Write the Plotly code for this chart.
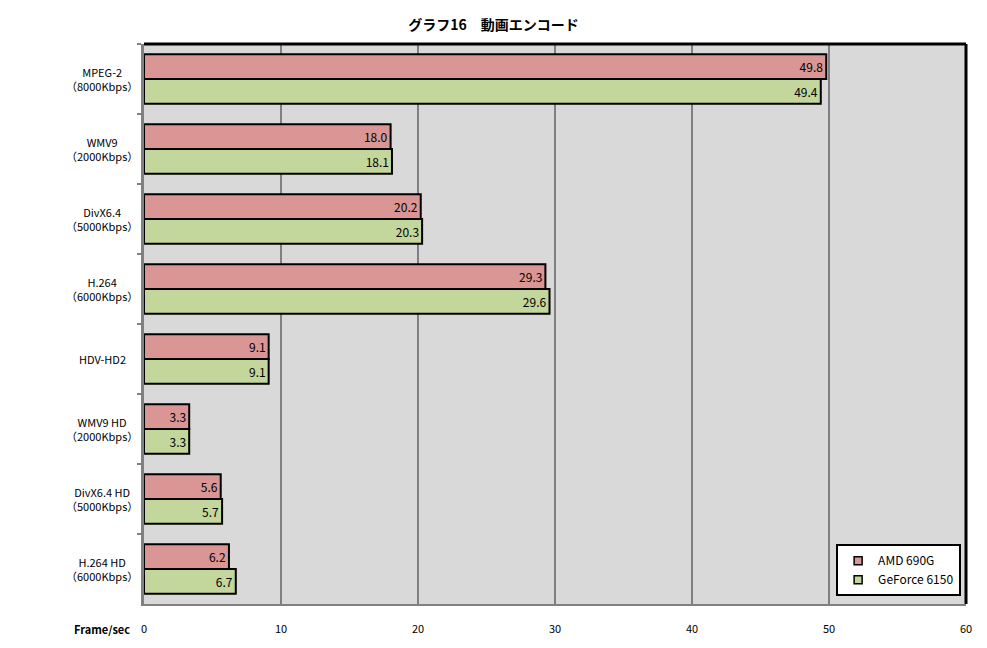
import plotly.graph_objects as go

categories = ["MPEG-2<br>（8000Kbps）", "WMV9<br>（2000Kbps）", "DivX6.4<br>（5000Kbps）",
              "H.264<br>（6000Kbps）", "HDV-HD2", "WMV9 HD<br>（2000Kbps）",
              "DivX6.4 HD<br>（5000Kbps）", "H.264 HD<br>（6000Kbps）"]
amd_690g = [49.8, 18.0, 20.2, 29.3, 9.1, 3.3, 5.6, 6.2]
geforce_6150 = [49.4, 18.1, 20.3, 29.6, 9.1, 3.3, 5.7, 6.7]
x_ticks = [0, 10, 20, 30, 40, 50, 60]

FONT = "Noto Sans CJK JP"
RED = "#D99694"
GREEN = "#C3D69B"

fig = go.Figure()
for name, vals, col in [("AMD 690G", amd_690g, RED), ("GeForce 6150", geforce_6150, GREEN)]:
    fig.add_trace(go.Bar(
        y=categories, x=vals, name=name, orientation="h", showlegend=False,
        marker=dict(color=col, line=dict(color="black", width=2)),
        text=[f"{v:.1f}" for v in vals], textposition="inside",
        insidetextanchor="end", textfont=dict(color="black", size=12, family=FONT),
        cliponaxis=False,
    ))
for name, col in [("AMD 690G", RED), ("GeForce 6150", GREEN)]:
    fig.add_trace(go.Scatter(
        x=[None], y=[None], name=name, mode="markers",
        marker=dict(symbol="square", size=8, color=col, line=dict(color="black", width=1.5)),
    ))

fig.update_layout(
    width=987, height=648,
    margin=dict(l=144, r=21, t=44, b=40),
    paper_bgcolor="white", plot_bgcolor="#D9D9D9",
    barmode="group", bargap=0.29, bargroupgap=0,
    font=dict(family=FONT, size=11, color="black"),
    title=dict(text="<b>グラフ16　動画エンコード</b>", x=0.5, xanchor="center",
               y=0.962, yanchor="middle", font=dict(size=14, family=FONT, color="black")),
    showlegend=True,
    legend=dict(x=0.842, y=0.014, xanchor="left", yanchor="bottom",
                bgcolor="white", bordercolor="black", borderwidth=2,
                font=dict(size=12, family=FONT), itemwidth=30),
)
fig.update_xaxes(
    range=[0, 60], tickvals=x_ticks, ticktext=[str(t) for t in x_ticks],
    showgrid=True, gridcolor="#808080", gridwidth=2,
    showline=True, linecolor="#808080", linewidth=2,
    ticks="outside", ticklen=14, tickcolor="rgba(0,0,0,0)",
    tickfont=dict(size=11, family=FONT), zeroline=False,
    fixedrange=True,
)
fig.update_yaxes(
    autorange="reversed", showline=True, linecolor="#808080", linewidth=3,
    ticks="outside", ticklen=4, tickcolor="#808080", tickwidth=2,
    tickson="boundaries", showticklabels=False,
    showgrid=False, zeroline=False,
)
for c in categories:
    fig.add_annotation(text=c, xref="paper", yref="y", x=-0.051, y=c,
                       xanchor="center", yanchor="middle", align="center",
                       showarrow=False, font=dict(size=11, family=FONT, color="black"))
# top and right border
fig.add_shape(type="line", xref="x domain", yref="y domain", x0=0, x1=1, y0=1, y1=1,
              line=dict(color="black", width=3))
fig.add_shape(type="line", xref="x domain", yref="y domain", x0=1, x1=1, y0=0, y1=1,
              line=dict(color="black", width=3))
fig.add_annotation(text="<b>Frame/sec</b>", xref="paper", yref="paper", x=-0.015, y=0,
                   xanchor="right", yanchor="top", yshift=-15, showarrow=False,
                   font=dict(size=11, family=FONT, color="black"))

fig.write_html("out.html")
